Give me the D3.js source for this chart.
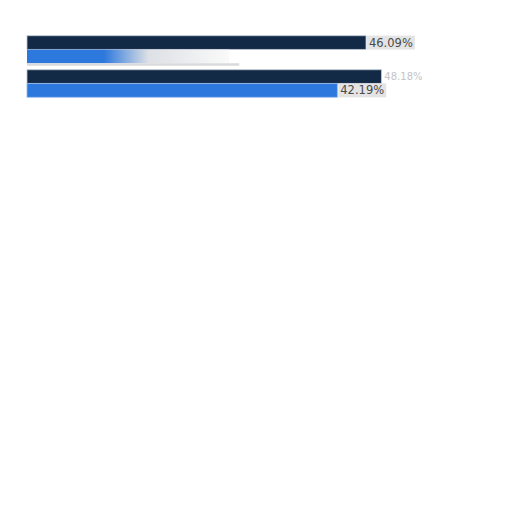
<!DOCTYPE html>
<html><head><meta charset="utf-8">
<script src="https://cdn.jsdelivr.net/npm/d3@7"></script>
<style>body{margin:0;background:#fff}svg{display:block}</style>
</head><body>
<script>
const categories = ["Group A", "Group B"];
const series = ["Series 1", "Series 2"];
const values1 = [46.09, 48.18];
const values2 = [27.5, 42.19];
const labels1 = ["46.09%", "48.18%"];
const labels2 = ["", "42.19%"];

const W = 512, H = 512;
const svg = d3.select("body").append("svg").attr("width", W).attr("height", H);
const defs = svg.append("defs");
const g1 = defs.append("linearGradient").attr("id","fade").attr("x1","0").attr("x2","1");
g1.append("stop").attr("offset","0.38").attr("stop-color","#2d78dd");
g1.append("stop").attr("offset","0.6").attr("stop-color","#dde0e5");
g1.append("stop").attr("offset","1").attr("stop-color","#fafafa");

const x = d3.scaleLinear().domain([0, 60]).range([27, 27 + 441.3]);
const y = d3.scaleBand().domain(categories).range([35.5, 103.5]).paddingInner(0).paddingOuter(0);
const sub = d3.scaleBand().domain(series).range([0, 28]).padding(0.02);

const colors = ["#132a47", "#2d78dd"];
const data = categories.map((c, i) => ({c, vals: [values1[i], values2[i]], labs: [labels1[i], labels2[i]]}));

const grp = svg.selectAll("g.cat").data(data).enter().append("g")
  .attr("transform", d => `translate(0,${y(d.c)})`);

// light separator line under first group
svg.append("line").attr("x1", x(0)).attr("x2", x(values2[0]) + 10).attr("y1", y(categories[0]) + 29).attr("y2", y(categories[0]) + 29)
  .attr("stroke", "#dadada").attr("stroke-width", 2.5);

grp.each(function(d, i) {
  const gg = d3.select(this);
  series.forEach((s, j) => {
    const fill = (i === 0 && j === 1) ? "url(#fade)" : colors[j];
    gg.append("rect")
      .attr("x", x(0)).attr("y", sub(s))
      .attr("width", x(d.vals[j]) - x(0)).attr("height", sub.bandwidth())
      .attr("fill", fill)
      .attr("stroke", (i === 0 && j === 1) ? "none" : (j === 0 ? "#b9c3d0" : "#8fb6ec")).attr("stroke-width", 0.8);
    if (d.labs[j]) {
      const faded = (i === 1 && j === 0);
      const tx = x(d.vals[j]) + 3;
      const ty = sub(s) + sub.bandwidth() / 2;
      const t = gg.append("text").attr("x", tx).attr("y", ty).attr("dy", "0.35em")
        .attr("font-family", "DejaVu Sans, sans-serif").attr("font-size", faded ? 10 : 11.5)
        .attr("fill", faded ? "#c4c4c4" : "#4a4a4a").text(d.labs[j]);
      if (!faded) {
        const bb = t.node().getBBox();
        gg.insert("rect", "text").attr("x", bb.x - 2).attr("y", bb.y)
          .attr("width", bb.width + 4).attr("height", bb.height).attr("fill", "#e4e4e4");
      }
    }
  });
});
</script>
</body></html>
